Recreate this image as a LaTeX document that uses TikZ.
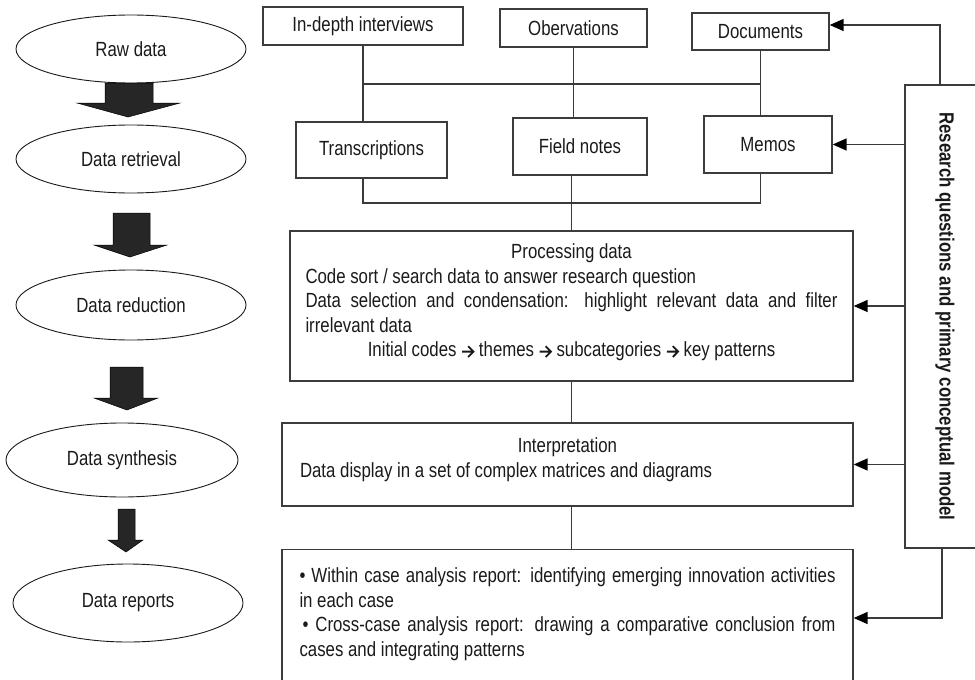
\documentclass[tikz,border=0pt]{standalone}
\usepackage{fontspec}
\setmainfont{Liberation Sans}[FakeStretch=0.82]
\usetikzlibrary{shapes.geometric,arrows.meta}
\definecolor{ink}{HTML}{1A1A1A}
\definecolor{frame}{HTML}{3C3C3C}
\definecolor{wire}{HTML}{3A3A3A}
\definecolor{blockfill}{HTML}{262626}
\newcommand{\flowfont}{\fontsize{20.5}{24.5}\selectfont\parindent0pt}
% small bold arrow used between the coding steps
\newcommand{\codearrow}{%
  \begin{pgfpicture}%
    \pgfsetbaseline{0pt}%
    \pgfsetcolor{ink}%
    \pgfsetlinewidth{1.8pt}%
    \pgfsetbuttcap\pgfsetmiterjoin
    \pgfpathmoveto{\pgfpoint{0pt}{5.2pt}}\pgfpathlineto{\pgfpoint{11pt}{5.2pt}}%
    \pgfpathmoveto{\pgfpoint{6pt}{10.6pt}}\pgfpathlineto{\pgfpoint{11.3pt}{5.2pt}}%
    \pgfpathlineto{\pgfpoint{6pt}{-0.2pt}}%
    \pgfusepath{stroke}%
  \end{pgfpicture}}
\begin{document}
\begin{tikzpicture}[x=1pt,y=-1pt,
  stage/.style={ellipse, draw=ink, line width=0.9pt, minimum width=230pt,
    minimum height=68pt, inner sep=0pt, font=\flowfont, text=ink},
  srcbox/.style={rectangle, draw=frame, line width=1.3pt, inner sep=0pt,
    font=\flowfont, text=ink},
  link/.style={draw=wire, line width=1.3pt},
  feed/.style={link, line width=1.5pt, -{Triangle[length=14pt,width=12pt,color=black]}},
  blockarrow/.style={fill=blockfill, draw=black, line width=0.5pt, line join=miter},
]
\useasboundingbox (0,0) rectangle (975,680);
\clip (0,0) rectangle (975,680);

% stages of the analysis (left column)
\node[stage] (stRaw) at (131,49) {Raw data};
\node[stage] (stRetrieval) at (131,159) {Data retrieval};
\node[stage, minimum height=70pt] (stReduction) at (131,305) {Data reduction};
\node[stage, minimum width=232pt, minimum height=74pt] (stSynthesis) at (122,460) {Data synthesis};
\node[stage, minimum height=78pt] (stReports) at (128,603) {Data reports};

% block arrows between the stages
\filldraw[blockarrow] (105,83) -- (153,83) -- (153,103) -- (180,103) -- (128,117) -- (77,103) -- (105,103) -- cycle;
\filldraw[blockarrow] (113,213) -- (150,213) -- (150,245) -- (167,245) -- (130,257) -- (94,245) -- (113,245) -- cycle;
\filldraw[blockarrow] (110,367) -- (143,367) -- (143,398) -- (158,398) -- (127,410) -- (94,398) -- (110,398) -- cycle;
\filldraw[blockarrow] (118,509) -- (135,509) -- (135,540) -- (143,540) -- (126,552) -- (108,540) -- (118,540) -- cycle;

% data sources
\node[srcbox, minimum width=200pt, minimum height=38pt] (interviews) at (363,26) {In-depth interviews};
\node[srcbox, minimum width=147pt, minimum height=38pt] (observations) at (573.5,28) {Obervations};
\node[srcbox, minimum width=137pt, minimum height=37pt] (documents) at (760.5,31.5) {Documents};
\node[srcbox, minimum width=151pt, minimum height=56pt] (transcriptions) at (371.5,150) {Transcriptions};
\node[srcbox, minimum width=134pt, minimum height=57pt] (fieldnotes) at (580,146.5) {Field notes};
\node[srcbox, minimum width=128pt, minimum height=57pt] (memos) at (768,144.5) {Memos};

% processing, interpretation and reporting
\node[srcbox, minimum width=563pt, minimum height=150pt, text width=532pt, align=justify] (processing) at (571.5,306) {%
  {\centering Processing data\par}
  Code sort / search data to answer research question\par
  Data selection and condensation: highlight relevant data and filter\linebreak irrelevant data\par
  {\centering Initial codes \codearrow{} themes \codearrow{} subcategories \codearrow{} key patterns\par}
  \vspace*{7pt}};
\node[srcbox, minimum width=571pt, minimum height=83pt, text width=535pt, align=justify] (interp) at (567.5,464.5) {%
  {\centering Interpretation\par}
  Data display in a set of complex matrices and diagrams\par
  \vspace*{10pt}};
\node[srcbox, anchor=north, minimum width=571pt, text width=536pt, align=justify, inner ysep=18pt] (reportbox) at (567.5,549) {%
  • Within case analysis report: identifying emerging innovation activities\linebreak in each case\par
  \hspace{3pt}• Cross-case analysis report: drawing a comparative conclusion from\linebreak cases and integrating patterns\par
  \vspace*{40pt}};

% guiding frame on the right
\node[srcbox, minimum width=80pt, minimum height=463pt,
  label={[rotate=-90, anchor=center, font=\flowfont\bfseries, text=ink]center:Research questions and primary conceptual model}]
  (research) at (945,316.5) {};

% connectors between the data sources
\coordinate (topbus) at (0,84);
\coordinate (lowbus) at (0,203);
\draw[link] (interviews.south) -- (interviews.south |- transcriptions.north);
\draw[link] (observations.south) -- (observations.south |- fieldnotes.north);
\draw[link] (documents.south) -- (documents.south |- memos.north);
\draw[link] (interviews.south |- topbus) -- (documents.south |- topbus);
\draw[link] (interviews.south |- transcriptions.south) -- (interviews.south |- lowbus)
  -- (documents.south |- lowbus) -- (documents.south |- memos.south);
\draw[link] (processing.north |- fieldnotes.south) -- (processing.north);
\draw[link] (processing.south) -- (processing.south |- interp.north);
\draw[link] (processing.south |- interp.south) -- (processing.south |- reportbox.north);

% feedback from the research questions
\coordinate (upturn) at (940,25);
\coordinate (downturn) at (942,618);
\draw[feed] (upturn |- research.north) -- (upturn) -- (upturn -| documents.east);
\draw[feed] (research.west |- memos.east) -- (memos.east);
\draw[feed] (research.west |- processing.east) -- (processing.east);
\draw[feed] (research.west |- interp.east) -- (interp.east);
\draw[feed] (downturn |- research.south) -- (downturn) -- (downturn -| reportbox.east);
\end{tikzpicture}
\end{document}
